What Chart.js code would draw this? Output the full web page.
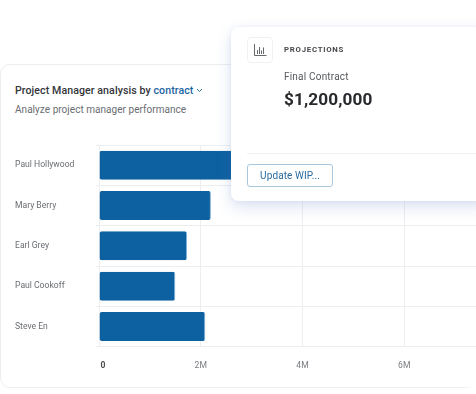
<!DOCTYPE html>
<html><head><meta charset="utf-8">
<script src="https://cdn.jsdelivr.net/npm/chart.js@4"></script>
<style>
html,body{margin:0;padding:0;background:#fff;width:476px;height:394px;overflow:hidden;font-family:Roboto,sans-serif}
#panel{position:absolute;left:0;top:64px;width:480px;height:322px;border:1px solid #eceef0;border-radius:10px;box-sizing:content-box}
#fade{position:absolute;left:462px;top:380px;width:14px;height:10px;background:linear-gradient(90deg,rgba(255,255,255,0),#fff)}
#title{position:absolute;left:15px;top:84px;font-size:10.6px;font-weight:500;color:#33353a;white-space:nowrap;letter-spacing:.08px}
#title span{color:#1a659f}
#title svg{margin-left:3px;vertical-align:1px}
#sub{position:absolute;left:15px;top:104px;font-size:10px;font-weight:400;color:#6a6d72;white-space:nowrap;letter-spacing:.04px}
#wrap{position:absolute;left:0;top:130px;width:540px;height:255px}
#card{position:absolute;left:231px;top:27px;width:260px;height:174px;background:#fff;border-radius:8px;box-shadow:0 6px 16px rgba(80,110,190,.2),0 0 6px rgba(80,110,190,.08)}
#icon{position:absolute;left:16px;top:10px;width:26px;height:26px;border:1px solid #f0f1f3;border-radius:4px;box-sizing:border-box}
#icon svg{position:absolute;left:6px;top:5px}
#proj{position:absolute;left:53px;top:18px;font-size:7.8px;font-weight:700;letter-spacing:.75px;color:#45474b}
#fc{position:absolute;left:53px;top:44px;font-size:10px;color:#55585c;letter-spacing:.2px}
#amt{position:absolute;left:53px;top:62px;font-size:17.2px;font-weight:700;color:#27292c;letter-spacing:.1px;white-space:nowrap}
#rule{position:absolute;left:16px;top:126px;right:0;height:1px;background:#f1f2f4}
#btn{position:absolute;left:16px;top:137px;width:86px;height:23px;border:1px solid #a9c8de;border-radius:3px;box-sizing:border-box;color:#2a6a9e;font-size:10px;line-height:21px;text-align:center;letter-spacing:.1px}
</style></head><body>
<div id="panel"></div><div id="fade"></div>
<div id="title">Project Manager analysis by <span>contract</span><svg width="7" height="5" viewBox="0 0 7 5"><path d="M1 1l2.5 2.5L6 1" fill="none" stroke="#1a659f" stroke-width=".9"/></svg></div>
<div id="sub">Analyze project manager performance</div>
<div id="wrap"><canvas id="c"></canvas></div>
<div id="card">
 <div id="icon"><svg width="13" height="14" viewBox="0 0 13 14"><path d="M.5 1v11.5h12M3.5 11V7M5.5 11V4M7.5 11V7.5M9.5 11V4.5" fill="none" stroke="#55585c" stroke-width=".9"/></svg></div>
 <div id="proj">PROJECTIONS</div>
 <div id="fc">Final Contract</div>
 <div id="amt">$1,200,000</div>
 <div id="rule"></div>
 <div id="btn">Update WIP...</div>
</div>
<script>
const categories=["Paul Hollywood","Mary Berry","Earl Grey","Paul Cookoff","Steve En"];
const contractValues=[3.1,2.2,1.73,1.5,2.09];
const tickLabels=["0","2M","4M","6M","8M"];
const nudgeZero={id:'nudgeZero',beforeDraw(chart){
  const it=chart.scales.x.getLabelItems()[0];
  if(it&&!it.nudged){it.options.translation[0]+=4;it.nudged=true;}
}};
new Chart(document.getElementById('c'),{
 type:'bar',
 plugins:[nudgeZero],
 data:{labels:categories,datasets:[{data:contractValues,backgroundColor:'#0d61a0',borderColor:'#7fb0d6',borderWidth:{top:0,left:0,right:1,bottom:0},borderRadius:2,borderSkipped:false,categoryPercentage:1,barPercentage:0.72}]},
 options:{indexAxis:'y',responsive:true,maintainAspectRatio:false,animation:false,
  layout:{padding:{left:15,top:15,right:34,bottom:0}},
  plugins:{legend:{display:false},tooltip:{enabled:false}},
  scales:{
   x:{min:0,max:8,position:'bottom',
     grid:{color:'#eceef0',lineWidth:1,drawTicks:false},border:{display:false},
     ticks:{stepSize:2,maxRotation:0,padding:14,color:(c)=>c.index===0?'#4a4c50':'#7a7d82',
       font:(c)=>({family:'Roboto',size:8.6,weight:c.index===0?'700':'400'}),
       callback:(v,i)=>tickLabels[i]}},
   y:{grid:{color:'#eceef0',lineWidth:1,drawTicks:true,tickLength:3},border:{display:false},
     afterFit:(s)=>{s.width=84},
     ticks:{crossAlign:'far',padding:0,color:'#6a6d72',font:{family:'Roboto',size:8.6}}}
  }}
});
</script>
</body></html>
